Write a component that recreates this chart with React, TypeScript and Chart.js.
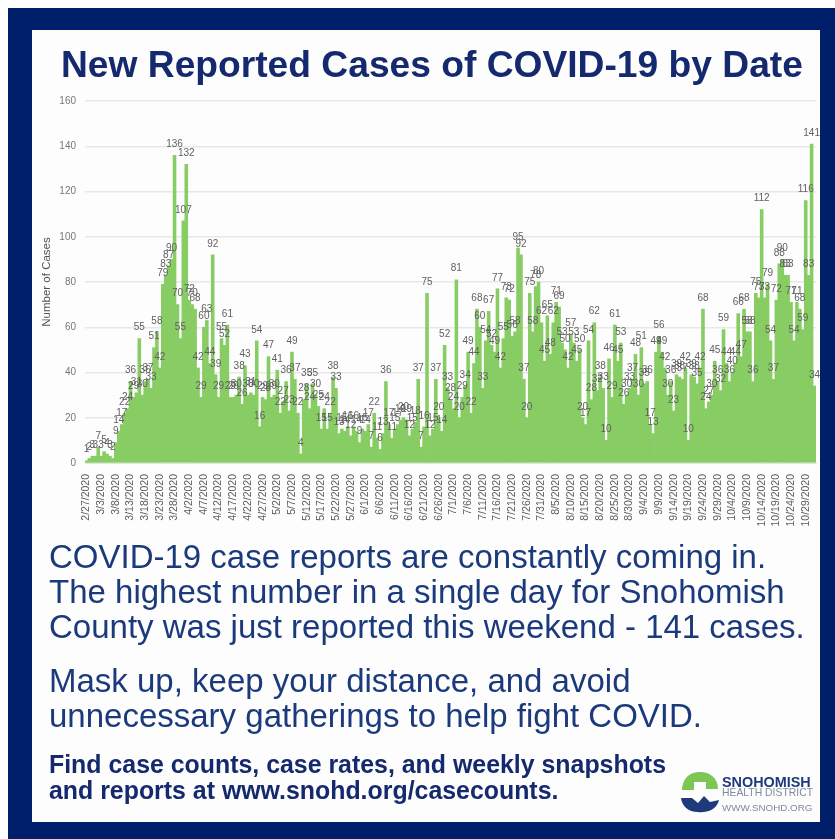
import React, { useEffect, useRef } from "react";
import { Chart, registerables } from "chart.js";

Chart.register(...registerables);

const startDate = [2020, 1, 27];
const cases: number[] = [
  1,2,3,3,7,3,5,4,3,2,
  9,14,17,22,24,36,29,31,55,30,
  36,37,33,51,58,42,79,83,87,90,
  136,70,55,107,132,72,70,68,42,29,
  60,63,44,92,39,29,55,52,61,29,
  29,30,38,26,43,30,31,30,54,16,
  29,28,47,29,30,41,22,27,36,23,
  49,37,22,4,28,35,24,35,30,25,
  15,24,15,22,38,33,13,15,14,16,
  12,16,14,9,15,14,17,7,22,11,
  6,13,36,17,11,15,17,19,20,19,
  12,15,18,37,7,16,75,12,15,37,
  20,14,52,33,28,24,81,20,29,34,
  49,22,44,68,60,33,54,67,52,49,
  77,42,55,73,72,56,58,95,92,37,
  20,75,58,78,80,62,45,65,48,62,
  71,69,53,50,42,57,53,45,50,20,
  17,54,28,62,32,38,33,10,46,29,
  61,45,53,26,30,33,37,48,30,51,
  35,36,17,13,49,56,49,42,30,36,
  23,39,38,37,42,10,39,38,35,42,
  68,24,27,30,45,36,32,59,44,36,
  40,44,66,47,68,58,58,36,75,73,
  112,73,79,54,37,72,88,90,83,83,
  71,54,71,68,59,116,83,141,34,
];
const labelEvery = 5;
const yTicks = { max: 160, step: 20 };
const titleText = "New Reported Cases of COVID-19 by Date";
const bodyLines = [
  "COVID-19 case reports are constantly coming in.",
  "The highest number in a single day for Snohomish",
  "County was just reported this weekend - 141 cases.",
];
const maskLines = ["Mask up, keep your distance, and avoid", "unnecessary gatherings to help fight COVID."];
const footLines = ["Find case counts, case rates, and weekly snapshots", "and reports at www.snohd.org/casecounts."];

const dates = cases.map((_, i) => {
  const d = new Date(startDate[0], startDate[1], startDate[2] + i);
  return `${d.getMonth() + 1}/${d.getDate()}/${d.getFullYear()}`;
});

const NAVY = "#001f6b";
const TEXT = "#1b3a7c";
const FONT = '"Liberation Sans", Arial, sans-serif';

const valueLabels = {
  id: "valueLabels",
  afterDatasetsDraw(chart: any) {
    const { ctx } = chart;
    const meta = chart.getDatasetMeta(0);
    ctx.save();
    ctx.font = `10px ${FONT}`;
    ctx.fillStyle = "#5f5f5f";
    ctx.textAlign = "center";
    ctx.textBaseline = "middle";
    meta.data.forEach((bar: any, i: number) => {
      ctx.fillText(String(cases[i]), bar.x, bar.y - 11);
    });
    ctx.restore();
  },
};

function text(s: string, left: number, top: number, size: number, bold = false, color = TEXT, lh = 0) {
  return (
    <div
      key={s}
      style={{
        position: "absolute",
        left,
        top: top - (lh || size) / 2,
        lineHeight: `${lh || size}px`,
        fontSize: size,
        fontWeight: bold ? 700 : 400,
        color,
        fontFamily: FONT,
        whiteSpace: "nowrap",
      }}
    >
      {s}
    </div>
  );
}

export default function App() {
  const ref = useRef<HTMLCanvasElement>(null);
  useEffect(() => {
    const chart = new Chart(ref.current!, {
      type: "bar",
      data: {
        labels: dates,
        datasets: [
          {
            data: cases,
            backgroundColor: "#88cd64",
            barPercentage: 1,
            categoryPercentage: 1,
            borderWidth: 0,
          },
        ],
      },
      options: {
        animation: false,
        responsive: false,
        devicePixelRatio: 1,
        layout: { padding: { top: 12, right: 4, left: 0, bottom: 0 } },
        plugins: { legend: { display: false }, tooltip: { enabled: false } },
        scales: {
          x: {
            grid: { display: false },
            border: { color: "#dfe8d8" },
            afterFit: (s: any) => {
              s.height = 83;
              s.paddingLeft = 0;
              s.paddingRight = 0;
            },
            ticks: {
              autoSkip: false,
              minRotation: 90,
              maxRotation: 90,
              padding: 3,
              color: "#5c5c5c",
              font: { family: FONT, size: 10.5 },
              callback: (_v: any, i: number) => (i % labelEvery === 0 ? dates[i] : ""),
            },
          },
          y: {
            min: 0,
            max: yTicks.max,
            afterFit: (s: any) => {
              s.width = 49;
            },
            grid: { color: "#e8e8e8", lineWidth: 1.5, drawTicks: false },
            border: { display: false },
            ticks: { stepSize: yTicks.step, padding: 9, color: "#777", font: { family: FONT, size: 10 } },
            title: {
              display: true,
              text: "Number of Cases",
              color: "#555",
              padding: { top: 4, bottom: 0 },
              font: { family: FONT, size: 11.5 },
            },
          },
        },
      },
      plugins: [valueLabels],
    });
    return () => chart.destroy();
  }, []);

  return (
    <div style={{ position: "absolute", left: 0, top: 0, width: 835, height: 839, overflow: "hidden", background: "#fff" }}>
      <div style={{ position: "absolute", left: 8, top: 8, width: 827, height: 831, background: NAVY }} />
      <div style={{ position: "absolute", left: 32, top: 30, width: 788, height: 792, background: "#fdfdfd" }} />
      <div style={{ position: "absolute", inset: 0, filter: "blur(0.6px)" }}>
        {text(titleText, 61, 64, 37.2, true, "#14296e", 42)}
        {bodyLines.map((s, i) => text(s, 49, 556 + i * 35.3, 33))}
        {maskLines.map((s, i) => text(s, 49, 680 + i * 35, 33))}
        {footLines.map((s, i) => text(s, 49, 764 + i * 26, 24.9, true, "#14296e"))}
        <svg style={{ position: "absolute", left: 680, top: 770, width: 42, height: 44 }} viewBox="0 0 42 44">
          <path d="M2 20 C3 6 12 2 20 2 C30 2 38 8 38 19 L26 19 L26 12 L14 12 L14 20 Z" fill="#7cc653" />
          <path d="M1 28 L12 28 L18 33 L24 26 L30 32 L39 30 C37 40 26 43 18 42 C8 42 2 36 1 28 Z" fill="#1f3a7c" />
        </svg>
        {text("SNOHOMISH", 722, 782, 14.4, true, "#1f3a7c")}
        {text("HEALTH DISTRICT", 722, 793, 10.4, false, "#7f8a9e")}
        {text("WWW.SNOHD.ORG", 722, 808, 9.8, false, "#7f8a9e")}
      </div>
      <canvas
        ref={ref}
        width={784}
        height={460}
        style={{ position: "absolute", left: 36, top: 86, width: 784, height: 460, filter: "blur(0.7px)" }}
      />
    </div>
  );
}
